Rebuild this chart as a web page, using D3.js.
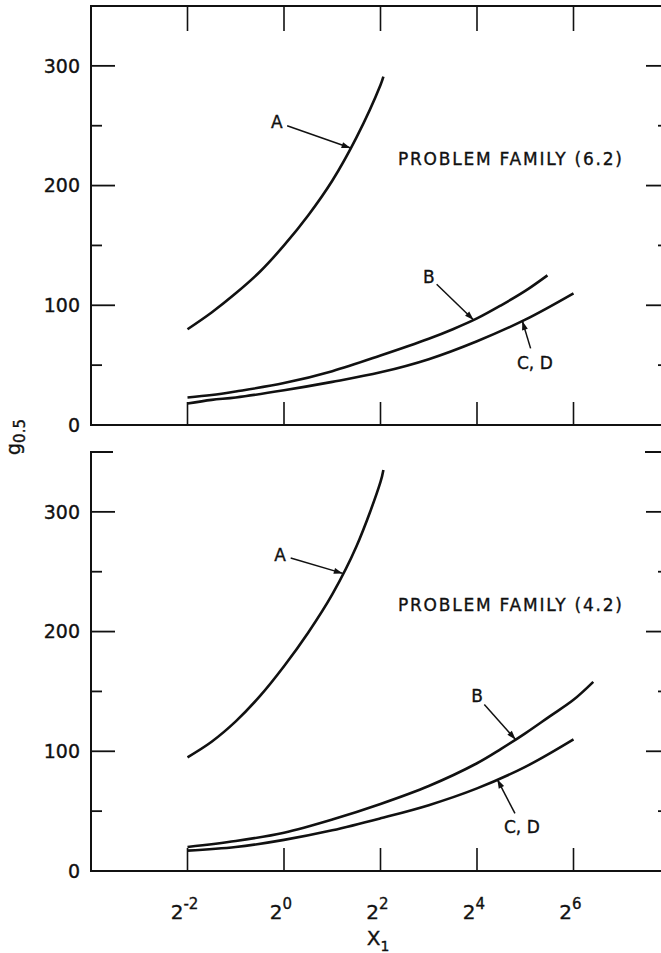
<!DOCTYPE html>
<html>
<head>
<meta charset="utf-8">
<script src="https://cdn.jsdelivr.net/npm/d3@7"></script>
<style>
  html, body { margin: 0; background: #fff; overflow: hidden; }
  svg { display: block; }
  text { font-family: "DejaVu Sans", sans-serif; fill: #111; stroke: #111; stroke-width: 0.35px; }
</style>
</head>
<body>
<svg id="chart" width="661" height="953"></svg>
<script>
// x values stored as log2(X1)
const xTicksExp = [-2, 0, 2, 4, 6];
const yTicks = [0, 100, 200, 300];
const yMinor = [50, 150, 250];

// problem family (6.2)
const topA_exp = [-2, -1.5, -1, -0.5, 0, 0.5, 1, 1.5, 2, 2.06];
const topA_val = [80, 94, 110, 128, 150, 175, 204, 240, 284, 291];
const topB_exp = [-2, -1.5, -1, 0, 1, 2, 3, 3.5, 4, 4.5, 5, 5.46];
const topB_val = [23, 25, 28, 35, 45, 58, 72, 80, 89, 100, 112, 125];
const topCD_exp = [-2, -1.5, -1, 0, 1, 2, 3, 4, 5, 6];
const topCD_val = [18, 21, 23, 29, 36, 44, 55, 70, 88, 110];

// problem family (4.2)
const botA_exp = [-2, -1.5, -1, -0.5, 0, 0.5, 1, 1.5, 2, 2.06];
const botA_val = [95, 108, 125, 146, 171, 199, 231, 271, 325, 335];
const botB_exp = [-2, -1, 0, 1, 2, 3, 4, 4.5, 5, 5.5, 6, 6.41];
const botB_val = [20, 25, 32, 43, 56, 71, 90, 102, 115, 129, 143, 158];
const botCD_exp = [-2, -1, 0, 1, 2, 3, 4, 5, 6];
const botCD_val = [17, 20, 26, 34, 44, 55, 69, 87, 110];

// annotations: label point (exp, value) and arrow tip exponent on the curve
const topNotes = [
  { text: "A", lx: -0.15, lv: 253, curve: "A", tip: 1.38 },
  { text: "B", lx: 3.0, lv: 124, curve: "B", tip: 3.93 },
  { text: "C, D", lx: 5.2, lv: 52, curve: "CD", tip: 4.94 }
];
const botNotes = [
  { text: "A", lx: -0.08, lv: 264, curve: "A", tip: 1.22 },
  { text: "B", lx: 4.0, lv: 146, curve: "B", tip: 4.8 },
  { text: "C, D", lx: 4.93, lv: 37, curve: "CD", tip: 4.42 }
];

const svg = d3.select("#chart");

const x = d3.scaleLog().base(2).domain([Math.pow(2, -4), Math.pow(2, 8)]).range([91, 670]);
const xe = e => x(Math.pow(2, e));

svg.append("defs").append("marker")
  .attr("id", "arrow")
  .attr("viewBox", "0 0 12 10")
  .attr("refX", 12).attr("refY", 5)
  .attr("markerWidth", 8).attr("markerHeight", 5)
  .attr("markerUnits", "strokeWidth")
  .attr("orient", "auto")
  .append("path")
  .attr("d", "M0,1 L12,5 L0,9 Z")
  .attr("fill", "#111");

function interp(exps, vals, e) {
  for (let i = 0; i < exps.length - 1; i++) {
    if (e >= exps[i] && e <= exps[i + 1]) {
      const t = (e - exps[i]) / (exps[i + 1] - exps[i]);
      return vals[i] + t * (vals[i + 1] - vals[i]);
    }
  }
  return vals[vals.length - 1];
}

function drawPanel(y, series, notes, title, hasTopEdge) {
  const g = svg.append("g");
  const x0 = x.range()[0], x1 = x.range()[1];
  const yTop = y(350), yBot = y(0);

  // frame (right side runs off the page)
  g.append("line").attr("x1", x0).attr("x2", x0).attr("y1", yTop - 1).attr("y2", yBot)
    .attr("stroke", "#111").attr("stroke-width", 2);
  g.append("line").attr("x1", x0 - 1).attr("x2", x1).attr("y1", yBot).attr("y2", yBot)
    .attr("stroke", "#111").attr("stroke-width", 2);
  if (hasTopEdge) {
    g.append("line").attr("x1", x0 - 1).attr("x2", x1).attr("y1", yTop).attr("y2", yTop)
      .attr("stroke", "#111").attr("stroke-width", 2);
    g.selectAll(".tt").data(xTicksExp).join("line")
      .attr("x1", d => xe(d)).attr("x2", d => xe(d))
      .attr("y1", yTop).attr("y2", yTop + 25)
      .attr("stroke", "#111").attr("stroke-width", 1.6);
  } else {
    // corner stubs only
    [[x0, x0 + 22], [x1 - 24, x1]].forEach(s => {
      g.append("line").attr("x1", s[0] - 1).attr("x2", s[1]).attr("y1", yTop).attr("y2", yTop)
        .attr("stroke", "#111").attr("stroke-width", 2);
    });
  }

  // bottom ticks pointing up
  g.selectAll(".bt").data(xTicksExp).join("line")
    .attr("x1", d => xe(d)).attr("x2", d => xe(d))
    .attr("y1", yBot).attr("y2", yBot - 23)
    .attr("stroke", "#111").attr("stroke-width", 1.6);

  // y ticks left and right
  const major = [100, 200, 300];
  g.selectAll(".ml").data(major).join("line")
    .attr("x1", x0).attr("x2", x0 + 24).attr("y1", d => y(d)).attr("y2", d => y(d))
    .attr("stroke", "#111").attr("stroke-width", 1.8);
  g.selectAll(".nl").data(yMinor).join("line")
    .attr("x1", x0).attr("x2", x0 + 11).attr("y1", d => y(d)).attr("y2", d => y(d))
    .attr("stroke", "#111").attr("stroke-width", 1.8);
  g.selectAll(".mr").data(major).join("line")
    .attr("x1", x1 - 24).attr("x2", x1).attr("y1", d => y(d)).attr("y2", d => y(d))
    .attr("stroke", "#111").attr("stroke-width", 1.8);
  g.selectAll(".nr").data(yMinor).join("line")
    .attr("x1", x1 - 12).attr("x2", x1).attr("y1", d => y(d)).attr("y2", d => y(d))
    .attr("stroke", "#111").attr("stroke-width", 1.8);

  // y tick labels
  g.selectAll(".yl").data(yTicks).join("text")
    .attr("x", 80).attr("y", d => y(d)).attr("dy", "0.36em")
    .attr("text-anchor", "end").attr("font-size", 19)
    .text(d => d);

  // curves
  const line = d3.line()
    .x(d => xe(d[0])).y(d => y(d[1]))
    .curve(d3.curveCatmullRom.alpha(0.5));
  Object.values(series).forEach(s => {
    g.append("path")
      .datum(s.exp.map((e, i) => [e, s.val[i]]))
      .attr("fill", "none").attr("stroke", "#111").attr("stroke-width", 2.6)
      .attr("d", line);
  });

  // title
  g.append("text")
    .attr("x", 398).attr("y", y(222)).attr("dy", "0.36em")
    .attr("font-size", 17).attr("textLength", 224).attr("lengthAdjust", "spacing")
    .text(title);

  // annotations
  notes.forEach(n => {
    const s = series[n.curve];
    const tx = xe(n.tip), ty = y(interp(s.exp, s.val, n.tip));
    const lx = xe(n.lx), ly = y(n.lv);
    g.append("text")
      .attr("x", lx).attr("y", ly).attr("dy", "0.36em")
      .attr("text-anchor", "middle").attr("font-size", 17)
      .text(n.text);
    const dx = tx - lx, dy = ty - ly, len = Math.hypot(dx, dy);
    const off = n.text.length > 1 ? 15 : 11;
    g.append("line")
      .attr("x1", lx + dx / len * off).attr("y1", ly + dy / len * off)
      .attr("x2", tx).attr("y2", ty)
      .attr("stroke", "#111").attr("stroke-width", 1.5)
      .attr("marker-end", "url(#arrow)");
  });
}

const yTopPanel = d3.scaleLinear().domain([0, 350]).range([425, 6]);
const yBotPanel = d3.scaleLinear().domain([0, 350]).range([871, 452]);

drawPanel(yTopPanel,
  { A: { exp: topA_exp, val: topA_val }, B: { exp: topB_exp, val: topB_val }, CD: { exp: topCD_exp, val: topCD_val } },
  topNotes, "PROBLEM FAMILY (6.2)", true);
drawPanel(yBotPanel,
  { A: { exp: botA_exp, val: botA_val }, B: { exp: botB_exp, val: botB_val }, CD: { exp: botCD_exp, val: botCD_val } },
  botNotes, "PROBLEM FAMILY (4.2)", false);

// x tick labels with superscripts
const xl = svg.append("g");
xTicksExp.forEach(e => {
  const t = xl.append("text")
    .attr("x", xe(e) - 3).attr("y", 919)
    .attr("text-anchor", "middle").attr("font-size", 20);
  t.append("tspan").text("2");
  t.append("tspan").attr("dy", -10).attr("font-size", 15).text(e);
});

// axis titles
const xt = svg.append("text").attr("x", 378).attr("y", 945).attr("text-anchor", "middle").attr("font-size", 20);
xt.append("tspan").text("X");
xt.append("tspan").attr("dy", 6).attr("font-size", 14).text("1");

const yt = svg.append("text")
  .attr("transform", "translate(20,437) rotate(-90)")
  .attr("text-anchor", "middle").attr("font-size", 19);
yt.append("tspan").text("g");
yt.append("tspan").attr("dy", 5).attr("font-size", 15).text("0.5");
</script>
</body>
</html>
